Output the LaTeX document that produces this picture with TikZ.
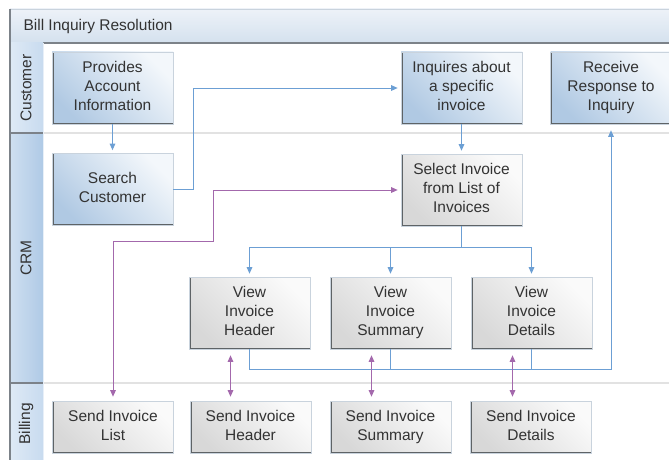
\documentclass[tikz,border=0pt]{standalone}
\usepackage{fontspec}
\setmainfont{Liberation Sans}
\usetikzlibrary{arrows.meta}

\definecolor{flowblue}{HTML}{6C9FD4}
\definecolor{flowpurple}{HTML}{A368AC}
\definecolor{textgray}{HTML}{333333}
\definecolor{edgelight}{HTML}{C9D3DD}
\definecolor{edgedark}{HTML}{5E6366}
\definecolor{bluelight}{HTML}{F3F7FB}
\definecolor{bluedark}{HTML}{B0C9E3}
\definecolor{graylight}{HTML}{FAFAFA}
\definecolor{graydark}{HTML}{D8D8D8}
\definecolor{titletop}{HTML}{EDF2F8}
\definecolor{titlebot}{HTML}{D4E1EE}
\definecolor{lanecol}{HTML}{C8DBEF}
\definecolor{crmcol}{HTML}{AFCAE6}
\definecolor{framegray}{HTML}{7C8289}
\definecolor{sepgray}{HTML}{E2E2E2}

% invisible rules that give every box text the same top and bottom
\newcommand\boxtop{\vrule width 0pt height 15pt depth 0pt}
\newcommand\boxbottom{\vrule width 0pt height 0pt depth 4pt}

\tikzset{
  taskbox/.style={minimum width=121pt, minimum height=72pt, inner sep=2pt,
    align=center, text=textgray, draw=edgelight, line width=0.6pt,
    execute at begin node=\boxtop, execute at end node=\boxbottom,
    path picture={\draw[edgedark, line width=3pt]
      (path picture bounding box.north west) -- (path picture bounding box.south west)
      -- (path picture bounding box.south east);}},
  custbox/.style={taskbox, top color=bluelight, bottom color=bluedark, shading angle=-45},
  sysbox/.style={taskbox, top color=graylight, bottom color=graydark, shading angle=-45},
  sendbox/.style={sysbox, minimum height=52pt},
  flow/.style={flowblue, line width=1pt, -{Triangle[length=6.5pt, width=5.5pt]}, shorten >=3pt},
  flowline/.style={flowblue, line width=1pt},
  exchange/.style={flowpurple, line width=1pt,
    {Triangle[length=6.5pt, width=5.5pt]}-{Triangle[length=6.5pt, width=5.5pt]}},
  lanelabel/.style={rotate=90, text=textgray},
}

\begin{document}
\begin{tikzpicture}[x=1pt, y=-1pt, font=\fontsize{15.5}{19}\selectfont]
\useasboundingbox (0,0) rectangle (669,460);
\fill[white] (0,0) rectangle (669,460);

% title bar
\shade[top color=titletop, bottom color=titlebot] (10,9) rectangle (680,43);
\draw[edgelight, line width=0.8pt] (10,9) -- (680,9);
\draw[framegray, line width=1.3pt] (10,43) -- (680,43);
\node[anchor=west, text=textgray] (title) at (20,26) {Bill Inquiry Resolution};

% lane header column
\shade[left color=white!40!lanecol, right color=lanecol] (10,43) rectangle (43,133);
\shade[left color=white!40!crmcol, right color=crmcol] (10,133) rectangle (43,383);
\shade[left color=white!40!lanecol, right color=lanecol] (10,383) rectangle (43,460);
\draw[white!70!crmcol, line width=0.8pt] (43,43) -- (43,460);

% lane separators
\draw[sepgray, line width=1.6pt] (44,133) -- (669,133);
\draw[sepgray, line width=1.6pt] (44,383) -- (669,383);
\draw[framegray, line width=1.3pt] (10,133) -- (43,133);
\draw[framegray, line width=1.3pt] (10,383) -- (43,383);

% outer frame edge
\draw[framegray, line width=1.3pt] (10,9) -- (10,460);

% lane names
\node[lanelabel] (lcust) at (26,88) {Customer};
\node[lanelabel] (lcrm) at (26,258) {CRM};
\node[lanelabel] (lbill) at (26,424) {Billing};

% Customer lane
\node[custbox] (prov) at (112.5,88) {Provides\\Account\\Information};
\node[custbox] (inq) at (461.5,88) {Inquires about\\a specific\\invoice};
\node[custbox] (recv) at (611,88) {Receive\\Response to\\Inquiry};

% CRM lane
\node[custbox] (search) at (112.5,189.5) {Search\\Customer};
\node[sysbox] (select) at (461.5,190) {Select Invoice\\from List of\\Invoices};
\node[sysbox] (vhead) at (249.5,313) {View\\Invoice\\Header};
\node[sysbox] (vsum) at (390.5,313) {View\\Invoice\\Summary};
\node[sysbox] (vdet) at (531.5,313) {View\\Invoice\\Details};

% Billing lane
\node[sendbox] (slist) at (113,427) {Send Invoice\\List};
\node[sendbox] (shead) at (250.5,427) {Send Invoice\\Header};
\node[sendbox] (ssum) at (390.5,427) {Send Invoice\\Summary};
\node[sendbox] (sdet) at (531,427) {Send Invoice\\Details};

% routing points
\coordinate (sbend) at (193,88);
\coordinate (fan) at (461.5,247);
\coordinate (col) at (611,369);
\coordinate (pbend) at (213,241);

% blue process flow
\draw[flow] (prov) -- (search);
\draw[flow] (search.east) -| (sbend) -- (inq.west);
\draw[flow] (inq) -- (select);
\draw[flowline] (select.south) -- (fan);
\draw[flow] (fan) -| (vhead.north);
\draw[flow] (fan) -| (vsum.north);
\draw[flow] (fan) -| (vdet.north);
\draw[flow, shorten >=6pt] (vhead.south) |- (col) -- (recv.south);
\draw[flowline] (vsum.south) -- (vsum.south |- col);
\draw[flowline] (vdet.south) -- (vdet.south |- col);

% purple system exchanges
\draw[exchange, shorten <=3pt, shorten >=4pt] (select.west) -| (pbend) -| (slist.north);
\draw[exchange, shorten <=6pt, shorten >=4pt] ([xshift=-19pt]vhead.south) -- ([xshift=-19pt]vhead.south |- shead.north);
\draw[exchange, shorten <=6pt, shorten >=4pt] ([xshift=-19pt]vsum.south) -- ([xshift=-19pt]vsum.south |- ssum.north);
\draw[exchange, shorten <=6pt, shorten >=4pt] ([xshift=-19pt]vdet.south) -- ([xshift=-19pt]vdet.south |- sdet.north);
\end{tikzpicture}
\end{document}
